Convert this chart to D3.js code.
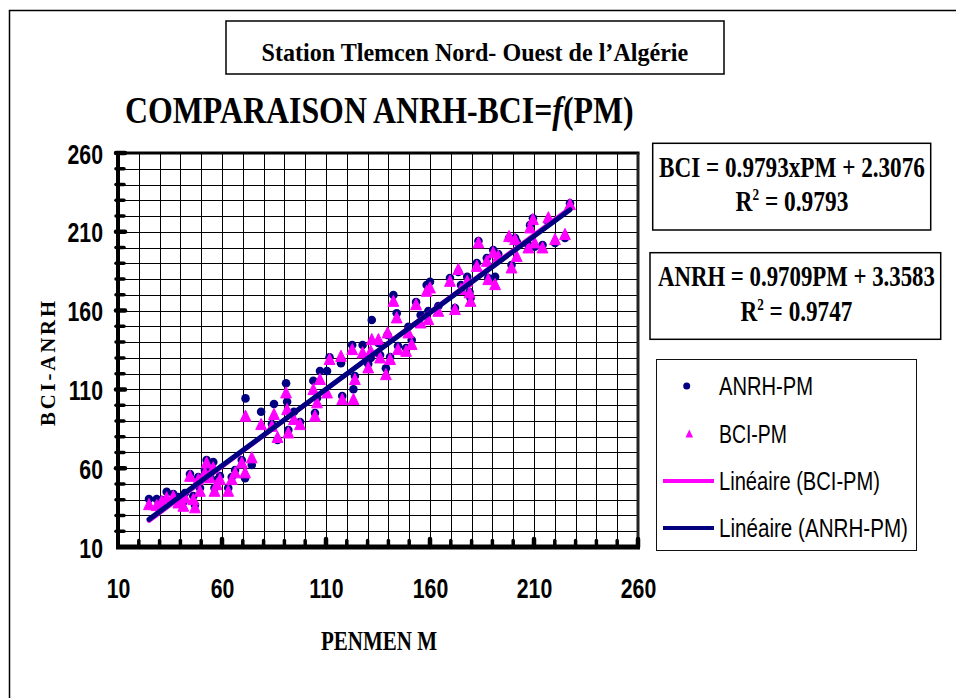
<!DOCTYPE html>
<html>
<head>
<meta charset="utf-8">
<script src="https://cdn.jsdelivr.net/npm/d3@7"></script>
<style>
  html, body { margin: 0; padding: 0; background: #fff; }
  svg { display: block; }
</style>
</head>
<body>
<svg id="chart" width="956" height="698"></svg>
<script>
// Monthly ET0 (mm) by Penman-Monteith, with the ANRH and BCI estimates for the same months
const pm = [24.9, 28.6, 31.0, 33.4, 36.6, 39.0, 41.4, 42.2, 44.6, 46.2, 47.0, 48.6, 49.4, 51.8, 52.6,
  54.2, 55.8, 56.4, 57.5, 59.0, 63.0, 64.7, 66.3, 69.5, 71.1, 74.3, 71.3, 78.8, 85.0, 84.0,
  86.7, 90.8, 91.3, 91.9, 94.6, 97.5, 103.9, 105.7, 104.7, 107.1, 110.5, 111.7, 117.2, 117.8, 122.6,
  123.2, 123.9, 127.6, 130.3, 131.5, 132.0, 135.2, 136.0, 138.8, 139.6, 140.8, 144.0, 144.6, 149.6,
  151.2, 148.5, 142.4, 153.3, 155.5, 159.2, 158.4, 160.0, 164.0, 169.6, 172.0, 173.6, 174.9, 177.9,
  179.0, 179.5, 182.5, 183.3, 187.3, 188.0, 190.4, 191.3, 192.8, 198.0, 199.2, 201.7, 200.9, 207.3,
  208.1, 209.5, 210.3, 214.1, 216.9, 220.1, 224.9, 227.3];
const anrh = [40.5, 40.5, 39.8, 45.1, 43.6, 41.7, 38.6, 44.3, 56.3, 42.4, 36.6, 54.4, 47.4, 58.9, 65.2,
  55.7, 63.9, 47.4, 52.5, 55.0, 47.4, 54.4, 58.9, 65.2, 53.6, 62.0, 104.3, 95.8, 100.7, 88.0,
  77.9, 113.9, 102.2, 84.2, 95.8, 89.3, 115.5, 104.5, 95.0, 121.7, 121.7, 130.4, 126.6, 105.8, 138.2,
  110.1, 118.5, 138.2, 126.1, 129.9, 154.0, 139.4, 131.8, 123.4, 144.5, 130.6, 158.3, 137.5, 149.8,
  141.3, 136.3, 169.9, 165.5, 157.2, 159.7, 176.2, 178.3, 162.9, 180.7, 161.6, 184.5, 176.2, 181.5,
  171.8, 168.0, 190.2, 204.2, 193.4, 180.7, 198.4, 181.5, 195.9, 206.1, 188.9, 203.7, 206.1, 201.6,
  214.3, 218.6, 200.5, 201.6, 216.2, 202.9, 206.1, 228.1];
const bci = [36.6, 36.0, 38.6, 40.9, 41.7, 37.7, 35.6, 40.9, 54.6, 39.8, 34.6, 52.5, 45.1, 56.8, 63.1,
  53.6, 59.9, 45.1, 49.3, 52.5, 45.1, 52.5, 56.8, 63.1, 56.8, 66.3, 92.7, 87.4, 93.8, 86.3,
  79.2, 107.5, 96.9, 82.1, 90.6, 87.4, 109.6, 101.2, 92.7, 116.0, 107.5, 128.7, 130.7, 103.3, 135.0,
  103.3, 116.0, 132.9, 123.4, 133.9, 141.3, 141.3, 129.7, 119.1, 145.6, 128.7, 155.1, 135.0, 145.6,
  138.2, 133.9, 165.6, 163.5, 151.9, 154.0, 172.0, 174.1, 159.3, 178.3, 160.4, 185.8, 173.1, 178.3,
  171.0, 165.6, 187.8, 202.7, 191.0, 179.4, 196.4, 176.2, 194.2, 206.7, 186.8, 194.0, 204.8, 199.5,
  212.2, 217.5, 202.7, 199.5, 218.6, 204.8, 208.0, 227.0];

// Axis labels
const xTicks = [10, 60, 110, 160, 210, 260];
const yTicks = [10, 60, 110, 160, 210, 260];

// Linear fits (trend lines)
const fitBCI = { slope: 0.9793, intercept: 2.3076, r2: 0.9793 };
const fitANRH = { slope: 0.9709, intercept: 3.3583, r2: 0.9747 };

const legendNames = ["ANRH-PM", "BCI-PM", "Linéaire (BCI-PM)", "Linéaire (ANRH-PM)"];

const NAVY = "#000080", MAGENTA = "#FF00FF";
const SERIF = "'Liberation Serif', 'Times New Roman', serif";
const SANS = "'Liberation Sans', Arial, sans-serif";

const svg = d3.select("#chart");

// Draws text and squeezes/stretches it horizontally to a given width
function fitText(parent, o) {
  const g = parent.append("g");
  const t = g.append("text")
    .attr("font-size", o.size)
    .attr("font-family", o.family)
    .attr("font-weight", o.weight || "bold")
    .attr("fill", o.fill || "#000");
  if (o.spacing) t.attr("letter-spacing", o.spacing);
  if (o.build) o.build(t); else t.text(o.text);
  const bb = t.node().getBBox();
  const s = o.width / bb.width;
  const left = o.anchor === "middle" ? o.x - o.width / 2 : o.anchor === "end" ? o.x - o.width : o.x;
  g.attr("transform", `translate(${left - bb.x * s},${o.y}) scale(${s},1)`);
  return g;
}

// Outer frame
svg.append("path").attr("d", "M9.5,700V10.5H960")
  .attr("fill", "none").attr("stroke", "#000").attr("stroke-width", 1.5);

// Station box
svg.append("rect").attr("x", 226).attr("y", 21).attr("width", 498).attr("height", 53)
  .attr("fill", "#fff").attr("stroke", "#000").attr("stroke-width", 1.5);
fitText(svg, { x: 475, y: 61, width: 427, anchor: "middle", size: 25, family: SERIF,
  text: "Station Tlemcen Nord- Ouest de l’Algérie" });

// Main title
fitText(svg, { x: 125, y: 123, width: 509, size: 37, family: SERIF,
  build: t => {
    t.append("tspan").text("COMPARAISON ANRH-BCI=");
    t.append("tspan").attr("font-style", "italic").text("f");
    t.append("tspan").text("(PM)");
  } });

// Plot area
const L = 118, R = 638, T = 153, B = 547;
const x = d3.scaleLinear().domain([10, 260]).range([L, R]);
const y = d3.scaleLinear().domain([10, 260]).range([B, T]);

const grid = svg.append("g").attr("stroke", "#000").attr("stroke-width", 1).attr("shape-rendering", "crispEdges");
const minor = d3.range(20, 260, 10);
grid.selectAll("line.v").data(minor).join("line").attr("class", "v")
  .attr("x1", d => Math.round(x(d)) + 0.5).attr("x2", d => Math.round(x(d)) + 0.5)
  .attr("y1", T).attr("y2", B);
grid.selectAll("line.h").data(minor).join("line").attr("class", "h")
  .attr("y1", d => Math.round(y(d)) + 0.5).attr("y2", d => Math.round(y(d)) + 0.5)
  .attr("x1", L).attr("x2", R);

// Frame of the plot: top and right borders, thick axes
svg.append("line").attr("x1", L).attr("x2", R + 1.5).attr("y1", T).attr("y2", T)
  .attr("stroke", "#000").attr("stroke-width", 3);
svg.append("line").attr("x1", R).attr("x2", R).attr("y1", T).attr("y2", B)
  .attr("stroke", "#222").attr("stroke-width", 3);
svg.append("line").attr("x1", L).attr("x2", L).attr("y1", T - 1.5).attr("y2", B + 2)
  .attr("stroke", "#000").attr("stroke-width", 4);
svg.append("line").attr("x1", L - 2).attr("x2", R + 2).attr("y1", B).attr("y2", B)
  .attr("stroke", "#000").attr("stroke-width", 5);

// Tick marks (every 10 units)
const tickVals = d3.range(10, 261, 10);
svg.append("g").selectAll("line").data(tickVals.filter(d => d > 10)).join("line")
  .attr("x1", d => x(d)).attr("x2", d => x(d))
  .attr("y1", B).attr("y2", d => B - (xTicks.includes(d) ? 8 : 6.5))
  .attr("stroke", "#000").attr("stroke-width", d => xTicks.includes(d) ? 4.5 : 3.5)
  .attr("stroke-linecap", "round");
svg.append("g").selectAll("line").data(tickVals.filter(d => d > 10)).join("line")
  .attr("y1", d => y(d)).attr("y2", d => y(d))
  .attr("x1", L - 2).attr("x2", d => L + (yTicks.includes(d) ? 7 : 6))
  .attr("stroke", "#000").attr("stroke-width", d => yTicks.includes(d) ? 4.5 : 3.5)
  .attr("stroke-linecap", "round");

// Axis labels through d3 axes
const SX = 0.76;
const xAxis = svg.append("g").attr("transform", `translate(0,${B})`)
  .call(d3.axisBottom(x).tickValues(xTicks).tickSize(0));
xAxis.select(".domain").remove();
xAxis.selectAll("text")
  .attr("y", 51).attr("dy", "0")
  .attr("font-size", 28).attr("font-weight", "bold").attr("font-family", SANS).attr("fill", "#000")
  .attr("transform", `scale(${SX},1)`);

const yAxis = svg.append("g").attr("transform", `translate(${L},0)`)
  .call(d3.axisLeft(y).tickValues(yTicks).tickSize(0));
yAxis.select(".domain").remove();
yAxis.selectAll("text")
  .attr("x", -15 / SX).attr("dy", "0.36em")
  .attr("font-size", 28).attr("font-weight", "bold").attr("font-family", SANS).attr("fill", "#000")
  .attr("transform", `scale(${SX},1)`);

// Axis titles
fitText(svg, { x: 379, y: 650, width: 116, anchor: "middle", size: 27, family: SERIF, text: "PENMEN M" });
const yTitle = svg.append("g").attr("transform", "translate(55,362) rotate(-90)");
fitText(yTitle, { x: 0, y: 0, width: 128, anchor: "middle", size: 22, family: SERIF, spacing: 3, text: "BCI-ANRH" });

// Scatter points
const tri = "M0,-6.6L5.4,4.6L-5.4,4.6Z";
svg.append("g").selectAll("circle").data(pm).join("circle")
  .attr("cx", d => x(d)).attr("cy", (d, i) => y(anrh[i])).attr("r", 4.3).attr("fill", NAVY);
svg.append("g").selectAll("path").data(pm).join("path")
  .attr("d", tri)
  .attr("transform", (d, i) => `translate(${x(d)},${y(bci[i])})`)
  .attr("fill", MAGENTA).attr("stroke", MAGENTA).attr("stroke-width", 1).attr("stroke-linejoin", "round");

// Trend lines over the PM range
const xr = d3.extent(pm);
const trend = (f, color, w) => svg.append("line")
  .attr("x1", x(xr[0])).attr("y1", y(f.slope * xr[0] + f.intercept))
  .attr("x2", x(xr[1])).attr("y2", y(f.slope * xr[1] + f.intercept))
  .attr("stroke", color).attr("stroke-width", w).attr("stroke-linecap", "round");
trend(fitBCI, MAGENTA, 4.5);
trend(fitANRH, NAVY, 5);

// Equation boxes
function eqBox(bx, by, bw, bh, line1, r2, cx, w1, w2) {
  svg.append("rect").attr("x", bx).attr("y", by).attr("width", bw).attr("height", bh)
    .attr("fill", "#fff").attr("stroke", "#000").attr("stroke-width", 1.5);
  fitText(svg, { x: cx, y: by + 33.5, width: w1, anchor: "middle", size: 30, family: SERIF, text: line1 });
  fitText(svg, { x: cx, y: by + 68, width: w2, anchor: "middle", size: 30, family: SERIF,
    build: t => {
      t.append("tspan").text("R");
      t.append("tspan").attr("font-size", 17).attr("dy", -11).text("2");
      t.append("tspan").attr("dy", 11).text(` = ${r2}`);
    } });
}
eqBox(652.7, 143.3, 278, 86.7, `BCI = ${fitBCI.slope}xPM + ${fitBCI.intercept}`, fitBCI.r2, 792, 266, 113);
eqBox(650, 252.7, 290.7, 86.6, `ANRH = ${fitANRH.slope}PM + ${fitANRH.intercept}`, fitANRH.r2, 796.5, 277, 112);

// Legend
svg.append("rect").attr("x", 656.5).attr("y", 359.5).attr("width", 260).attr("height", 191)
  .attr("fill", "#fff").attr("stroke", "#111").attr("stroke-width", 1);
const legY = [386, 434, 481, 528];
const legW = [94, 68, 161, 189];
svg.append("circle").attr("cx", 686.7).attr("cy", legY[0]).attr("r", 3.5).attr("fill", NAVY);
svg.append("path").attr("d", "M0,-4.6L3.8,3.4L-3.8,3.4Z")
  .attr("transform", `translate(689.3,${legY[1]})`).attr("fill", MAGENTA);
svg.append("line").attr("x1", 663).attr("x2", 714).attr("y1", legY[2]).attr("y2", legY[2])
  .attr("stroke", MAGENTA).attr("stroke-width", 4);
svg.append("line").attr("x1", 663).attr("x2", 714).attr("y1", legY[3]).attr("y2", legY[3])
  .attr("stroke", NAVY).attr("stroke-width", 4);
legendNames.forEach((name, i) => {
  fitText(svg, { x: 719, y: legY[i] + 9, width: legW[i], size: 25, family: SANS, weight: "normal", text: name });
});
</script>
</body>
</html>
